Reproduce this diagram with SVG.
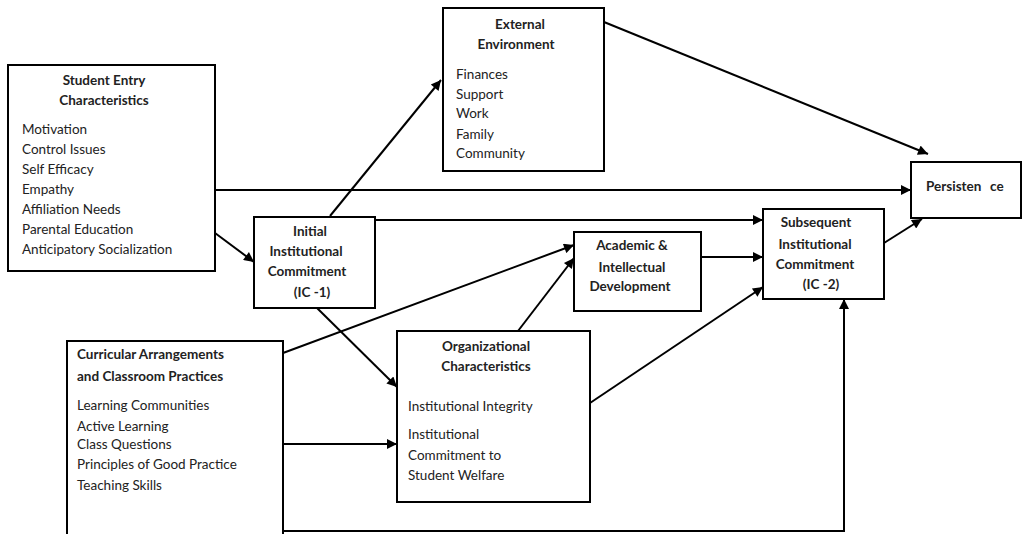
<svg xmlns="http://www.w3.org/2000/svg" width="1022" height="534" viewBox="0 0 1022 534">
<defs>
<marker id="ah" viewBox="0 0 10 10" refX="10" refY="5" markerWidth="6" markerHeight="5" markerUnits="strokeWidth" orient="auto">
<path d="M0,0 L10,5 L0,10 z" fill="#000"/>
</marker>
<style>
.box{fill:#fff;stroke:#000;stroke-width:2}
text{font-family:Lato,"Liberation Sans",sans-serif;font-size:13.5px;fill:#222}
.t{font-weight:bold;text-anchor:middle;font-size:13.5px}
.tl{font-weight:bold;font-size:13.5px}
.c{fill:none;stroke:#000;stroke-width:2}
.a{fill:none;stroke:#000;stroke-width:2;marker-end:url(#ah)}
</style>
</defs>
<rect width="1022" height="534" fill="#fff"/>
<g id="connectors">
<path class="a" d="M215,190 L911,190"/>
<path class="a" d="M215,233 L254,262"/>
<path class="a" d="M330,216 L441,80"/>
<path class="a" d="M604,22 L928,154"/>
<path class="a" d="M375,220 L763,220"/>
<path class="a" d="M283,353 L574,245"/>
<path class="a" d="M518,331 L574,258"/>
<path class="a" d="M701,257 L763,257"/>
<path class="a" d="M884,243 L922,219"/>
<path class="a" d="M317,308 L397,387"/>
<path class="a" d="M283,444 L397,444"/>
<path class="a" d="M590,403 L763,287"/>
<path class="a" d="M283,531 L844,531 L844,299"/>
</g>
<g id="student-entry">
<rect class="box" x="8" y="65" width="207" height="206"/>
<text class="t" x="104" y="85">Student Entry</text>
<text class="t" x="104" y="105">Characteristics</text>
<text x="22" y="134">Motivation</text>
<text x="22" y="154">Control Issues</text>
<text x="22" y="174">Self Efficacy</text>
<text x="22" y="194">Empathy</text>
<text x="22" y="214">Affiliation Needs</text>
<text x="22" y="234">Parental Education</text>
<text x="22" y="254">Anticipatory Socialization</text>
</g>
<g id="external-environment">
<rect class="box" x="443" y="8" width="161" height="163"/>
<text class="t" x="520" y="29">External</text>
<text class="t" x="516" y="49">Environment</text>
<text x="456" y="79">Finances</text>
<text x="456" y="99">Support</text>
<text x="456" y="118">Work</text>
<text x="456" y="139">Family</text>
<text x="456" y="158">Community</text>
</g>
<g id="initial-commitment">
<rect class="box" x="254" y="217" width="121" height="91"/>
<text class="t" x="310" y="236">Initial</text>
<text class="t" x="306" y="256">Institutional</text>
<text class="t" x="307" y="276">Commitment</text>
<text class="t" x="312" y="297">(IC -1)</text>
</g>
<g id="academic-development">
<rect class="box" x="574" y="232" width="127" height="79"/>
<text class="t" x="632" y="250">Academic &amp;</text>
<text class="t" x="632" y="272">Intellectual</text>
<text class="t" x="630" y="291">Development</text>
</g>
<g id="subsequent-commitment">
<rect class="box" x="763" y="209" width="121" height="90"/>
<text class="t" x="816" y="227">Subsequent</text>
<text class="t" x="815" y="249">Institutional</text>
<text class="t" x="815" y="269">Commitment</text>
<text class="t" x="821" y="289">(IC -2)</text>
</g>
<g id="persistence">
<rect class="box" x="911" y="162" width="110" height="56"/>
<text class="tl" x="926" y="191">Persisten<tspan x="990">ce</tspan></text>
</g>
<g id="organizational-characteristics">
<rect class="box" x="397" y="331" width="193" height="171"/>
<text class="t" x="486" y="351">Organizational</text>
<text class="t" x="486" y="371">Characteristics</text>
<text x="408" y="411">Institutional Integrity</text>
<text x="408" y="439">Institutional</text>
<text x="408" y="460">Commitment to</text>
<text x="408" y="480">Student Welfare</text>
</g>
<g id="curricular-arrangements">
<path class="box" d="M67,540 L67,341 L283,341 L283,540"/>
<text class="tl" x="77" y="359">Curricular Arrangements</text>
<text class="tl" x="77" y="381">and Classroom Practices</text>
<text x="77" y="410">Learning Communities</text>
<text x="77" y="431">Active Learning</text>
<text x="77" y="449">Class Questions</text>
<text x="77" y="469">Principles of Good Practice</text>
<text x="77" y="490">Teaching Skills</text>
</g>
</svg>
